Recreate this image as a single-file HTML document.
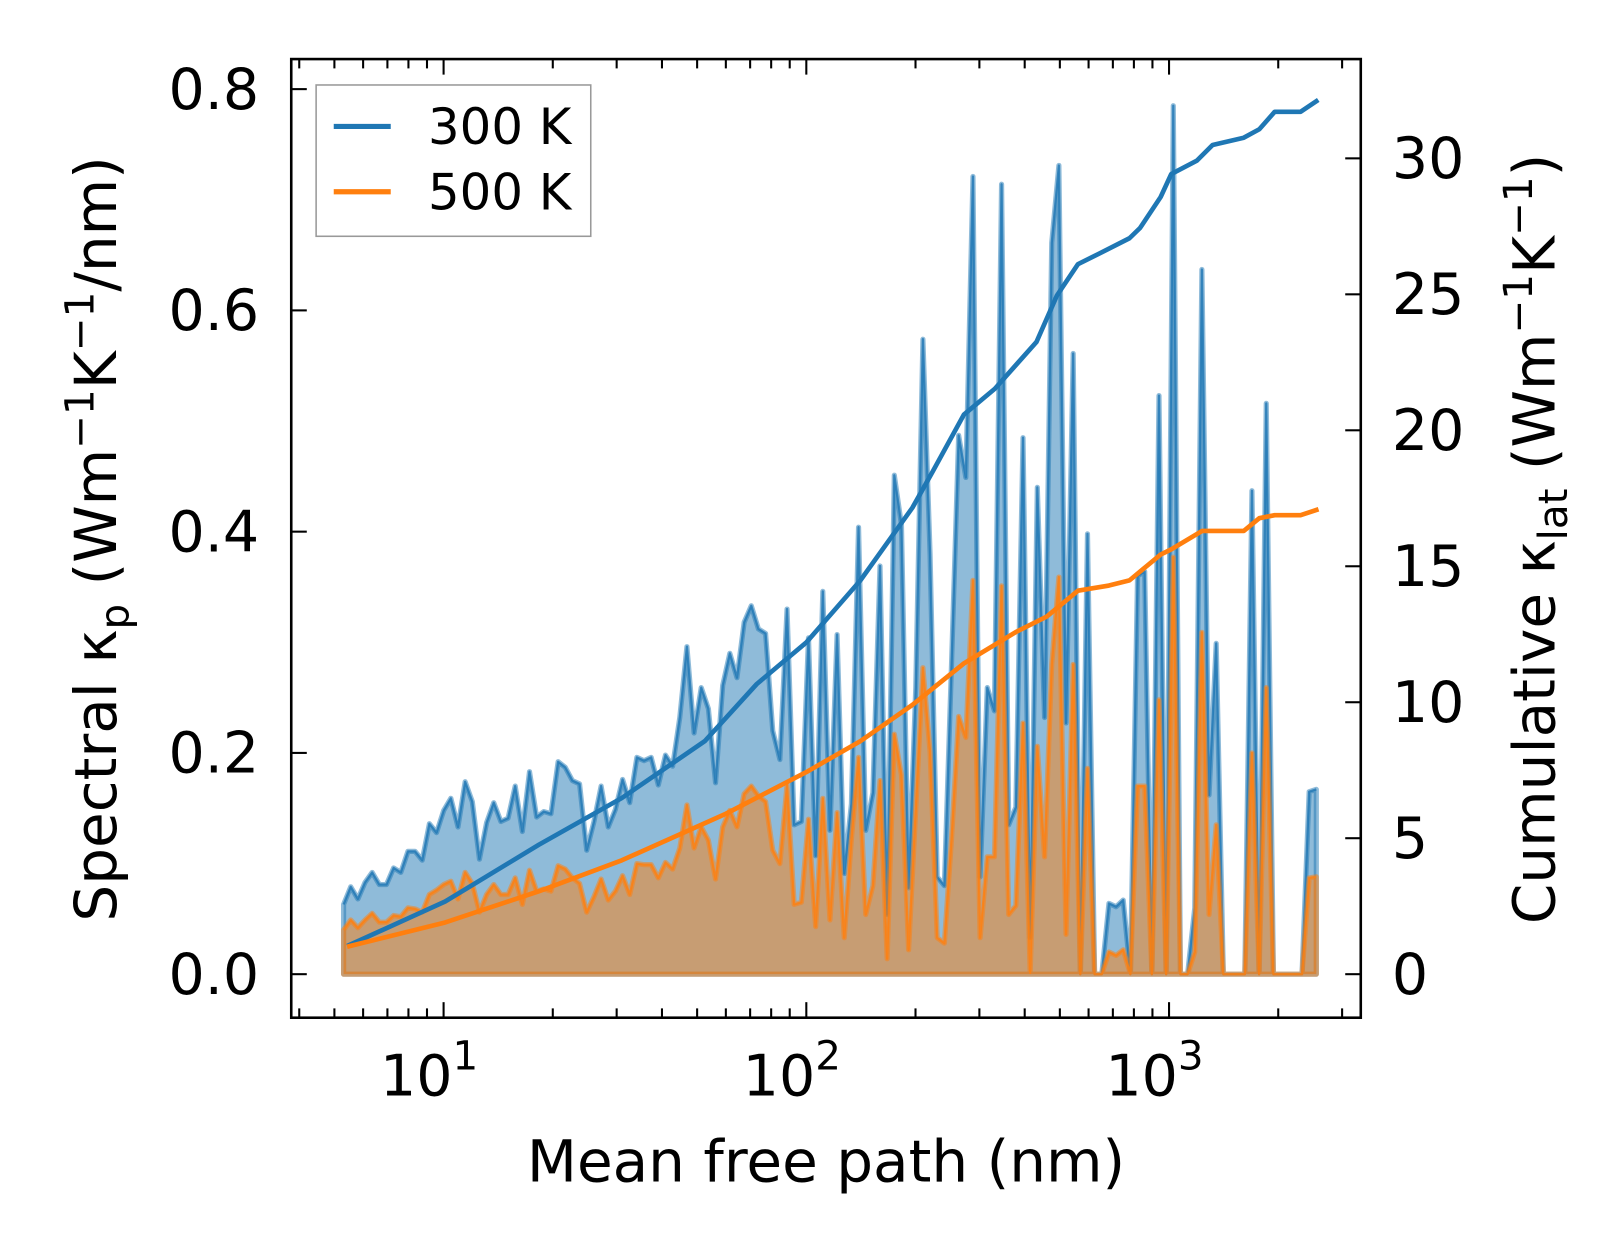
<!DOCTYPE html>
<html><head><meta charset="utf-8">
<style>
html,body{margin:0;padding:0;background:#fff;}
svg{display:block;font-family:"DejaVu Sans","Liberation Sans",sans-serif;}
</style></head>
<body>
<svg id="chart" width="1623" height="1254" viewBox="0 0 1566 1210" xmlns="http://www.w3.org/2000/svg">
<g id="plot"></g>
<g id="axes"></g>
</svg>
<script>
// ---- data ----
const mfpMin = 5.3, mfpMax = 2547;
const spec300 = [0.063,0.079,0.068,0.083,0.092,0.081,0.081,0.096,0.092,0.111,0.111,0.103,0.136,0.128,0.148,0.159,0.133,0.174,0.156,0.104,0.137,0.155,0.138,0.141,0.17,0.129,0.183,0.142,0.147,0.145,0.192,0.187,0.175,0.172,0.112,0.138,0.17,0.133,0.149,0.176,0.155,0.196,0.193,0.196,0.171,0.198,0.188,0.232,0.296,0.218,0.259,0.24,0.173,0.261,0.29,0.268,0.318,0.333,0.312,0.308,0.22,0.194,0.33,0.135,
0.138,0.304,0.107,0.346,0.13,0.307,0.091,0.154,0.404,0.13,0.164,0.369,0.054,0.451,0.406,0.078,0.259,0.574,0.38,0.088,0.08,0.28,0.487,0.449,0.721,0.088,0.259,0.238,0.714,0.135,0.151,0.485,0.033,0.44,0.232,0.661,0.731,0.227,0.561,0,0.398,0,0,0.064,0.061,0.067,0,0.36,0.364,0,0.523,0,0.785,0,0,0.06,0.637,0.162,0.299,0,0,0,0,0.437,0,0.516,0,0,0,0,0,0.165,0.167];
const spec500 = [0.04,0.049,0.042,0.049,0.055,0.047,0.047,0.053,0.052,0.06,0.059,0.056,0.072,0.076,0.081,0.084,0.068,0.092,0.082,0.056,0.072,0.081,0.072,0.072,0.087,0.063,0.094,0.075,0.077,0.075,0.098,0.095,0.087,0.082,0.056,0.07,0.086,0.067,0.075,0.089,0.072,0.1,0.099,0.099,0.087,0.101,0.095,0.114,0.153,0.114,0.133,0.121,0.086,0.133,0.148,0.133,0.163,0.17,0.161,0.156,0.112,0.1,0.171,0.063,
0.065,0.14,0.043,0.159,0.049,0.146,0.033,0.122,0.196,0.054,0.08,0.175,0.014,0.217,0.18,0.022,0.149,0.277,0.201,0.033,0.028,0.122,0.233,0.214,0.356,0.033,0.106,0.106,0.351,0.054,0.062,0.227,0.001,0.206,0.106,0.28,0.359,0.036,0.28,0,0.186,0,0,0.02,0.017,0.022,0,0.17,0.17,0,0.248,0,0.377,0,0,0.02,0.309,0.054,0.135,0,0,0,0,0.2,0,0.259,0,0,0,0,0,0.087,0.088];
const cumX300 = [5.5,10.1,18.3,31,52.5,73,100,141,196,223,272,331,431,491,561,640,778,832,948,1014,1194,1318,1607,1774,1955,2305,2547];
const cum300 = [1.07,2.67,4.76,6.48,8.57,10.67,12.2,14.48,17.15,18.48,20.58,21.53,23.25,24.96,26.11,26.49,27.06,27.44,28.58,29.42,29.92,30.49,30.76,31.07,31.71,31.71,32.1];
const cumX500 = [5.5,10.1,18.3,31,60,100,141,196,272,378,460,561,683,778,948,1014,1234,1607,1774,1955,2305,2547];
const cum500 = [1.03,1.9,3.05,4.19,5.9,7.43,8.57,9.9,11.43,12.58,13.15,14.1,14.29,14.48,15.43,15.62,16.3,16.3,16.77,16.88,16.88,17.07];
const leftTicks = [0.0,0.2,0.4,0.6,0.8];
const leftTickLabels = ["0.0","0.2","0.4","0.6","0.8"];
const rightTicks = [0,5,10,15,20,25,30];
const xMajor = [1,2,3];

// ---- geometry ----
const L=281,R=1313,T=57,B=982;
const NS='http://www.w3.org/2000/svg';
const xs = v => 428 + 350*(Math.log10(v)-1);
const yl = v => 940 - v*1067.5;
const yr = v => 940 - v*26.24;
function el(tag, attrs, parent){const e=document.createElementNS(NS,tag);for(const k in attrs)e.setAttribute(k,attrs[k]);parent.appendChild(e);return e;}
const plot=document.getElementById('plot'), axes=document.getElementById('axes');
const n=spec300.length;
const mfp=[];for(let i=0;i<n;i++)mfp.push(Math.pow(10,Math.log10(mfpMin)+i*(Math.log10(mfpMax)-Math.log10(mfpMin))/(n-1)));

function spectral(vals,color,name){
  let pts=vals.map((v,i)=>xs(mfp[i]).toFixed(1)+','+yl(v).toFixed(1));
  const area='M'+xs(mfp[0]).toFixed(1)+','+yl(0)+' L'+pts.join(' L')+' L'+xs(mfp[n-1]).toFixed(1)+','+yl(0)+' Z';
  const a=el('path',{d:area,fill:color,'fill-opacity':0.5,stroke:color,'stroke-opacity':0.5,'stroke-width':5,'stroke-linejoin':'round'},plot);
  
  
  const l=el('polyline',{points:pts.join(' '),fill:'none',stroke:color,'stroke-opacity':0.8,'stroke-width':2.2,'stroke-linejoin':'round'},plot);
  
  
}
spectral(spec300,'#1f77b4','k300');
spectral(spec500,'#ff7f0e','k500');
function cumLine(xv,yv,color,name){
  const pts=xv.map((x,i)=>xs(x).toFixed(1)+','+yr(yv[i]).toFixed(1)).join(' ');
  const l=el('polyline',{points:pts,fill:'none',stroke:color,'stroke-width':4.5,'stroke-linejoin':'round','stroke-linecap':'square'},plot);
  
  
}
cumLine(cumX300,cum300,'#1f77b4','k300');
cumLine(cumX500,cum500,'#ff7f0e','k500');

// frame
const fr=el('rect',{x:L,y:T,width:R-L,height:B-T,fill:'none',stroke:'#000','stroke-width':2.5},axes);


// x ticks
for(let d=0;d<=3;d++){for(let m=1;m<10;m++){const v=m*Math.pow(10,d);const x=xs(v);if(x<L||x>R)continue;
  const len=m===1?15:9;
  el('line',{x1:x,y1:B,x2:x,y2:B-len,stroke:'#000','stroke-width':2},axes);
  el('line',{x1:x,y1:T,x2:x,y2:T+len,stroke:'#000','stroke-width':2},axes);}}
xMajor.forEach(p=>{const t=el('text',{x:xs(Math.pow(10,p))-14,y:1057,'font-size':55,'text-anchor':'middle'},axes);
  
  
  t.innerHTML='10<tspan dy="-25" font-size="39">'+p+'</tspan>';});
leftTicks.forEach((v,i)=>{const y=yl(v);el('line',{x1:L,y1:y,x2:L+15,y2:y,stroke:'#000','stroke-width':2},axes);
  const t=el('text',{x:250,y:y+19,'font-size':55,'text-anchor':'end'},axes);t.textContent=leftTickLabels[i];
  
  });
rightTicks.forEach(v=>{const y=yr(v);el('line',{x1:R,y1:y,x2:R-15,y2:y,stroke:'#000','stroke-width':2},axes);
  const t=el('text',{x:1343,y:y+19,'font-size':55},axes);t.textContent=String(v);
  
  });
</script>
<svg style="position:absolute;left:0;top:0" width="1623" height="1254" viewBox="0 0 1566 1210">
  <text x="797" y="1140" font-size="56" text-anchor="middle" font-family="DejaVu Sans, Liberation Sans, sans-serif">Mean free path (nm)</text>
  <text transform="translate(112,520) rotate(-90)" font-size="56" text-anchor="middle" font-family="DejaVu Sans, Liberation Sans, sans-serif">Spectral κ<tspan font-size="39" dy="12">p</tspan><tspan dy="-12"> (Wm</tspan><tspan font-size="39" dy="-22">−1</tspan><tspan dy="22">K</tspan><tspan font-size="39" dy="-22">−1</tspan><tspan dy="22">/nm)</tspan></text>
  <text transform="translate(1500,520) rotate(-90)" font-size="56" text-anchor="middle" font-family="DejaVu Sans, Liberation Sans, sans-serif">Cumulative κ<tspan font-size="39" dy="12">lat</tspan><tspan dy="-12"> (Wm</tspan><tspan font-size="39" dy="-22">−1</tspan><tspan dy="22">K</tspan><tspan font-size="39" dy="-22">−1</tspan><tspan dy="22">)</tspan></text>
  <g>
    <rect x="305" y="82" width="265" height="146" fill="#fff" fill-opacity="0.85" stroke="#999" stroke-width="1.5"/>
    <g>
      <line x1="322" y1="122" x2="377" y2="122" stroke="#1f77b4" stroke-width="5"/>
      <text x="413" y="139" font-size="48" font-family="DejaVu Sans, Liberation Sans, sans-serif">300 K</text>
    </g>
    <g>
      <line x1="322" y1="185" x2="377" y2="185" stroke="#ff7f0e" stroke-width="5"/>
      <text x="413" y="202" font-size="48" font-family="DejaVu Sans, Liberation Sans, sans-serif">500 K</text>
    </g>
  </g>
</svg>
</body></html>
